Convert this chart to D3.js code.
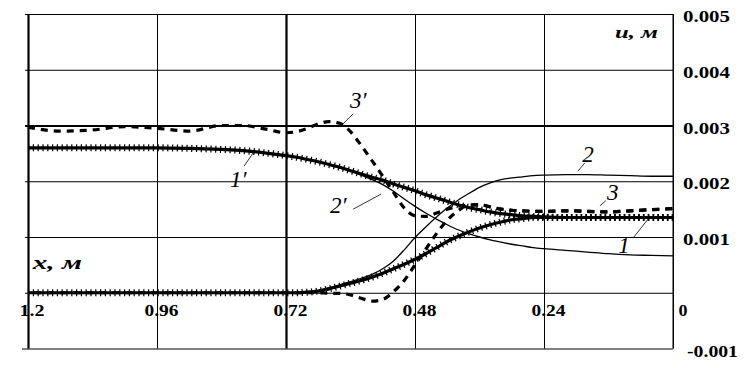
<!DOCTYPE html>
<html><head><meta charset="utf-8">
<script src="https://cdn.jsdelivr.net/npm/d3@7"></script>
<style>body{margin:0;background:#fff}svg{display:block;background:#fff}</style>
</head><body><svg id="c" width="750" height="368"></svg>
<script>
// ---- data (x in metres, u in metres) ----
const xGrid = [1.2,1.14,1.08,1.02,0.96,0.90,0.84,0.80,0.76,0.72,0.70,0.68,0.66,0.64,0.62,0.60,0.58,0.56,0.54,0.52,0.50,0.48,0.46,0.44,0.42,0.40,0.38,0.36,0.34,0.32,0.30,0.28,0.26,0.24,0.20,0.16,0.12,0.08,0.04,0];
const u1p = [0.00260,0.00260,0.00260,0.00260,0.00260,0.00259,0.00257,0.00255,0.00251,0.00246,0.00243,0.00239,0.00235,0.00230,0.00225,0.00219,0.00213,0.00207,0.00202,0.00195,0.00189,0.00183,0.00176,0.00170,0.00164,0.00158,0.00153,0.00149,0.00145,0.00142,0.00140,0.00138,0.00137,0.00136,0.00135,0.00135,0.00135,0.00135,0.00135,0.00135];
const u2p = [0.00260,0.00260,0.00260,0.00260,0.00260,0.00259,0.00257,0.00255,0.00251,0.00246,0.00243,0.00239,0.00235,0.00230,0.00225,0.00219,0.00211,0.00203,0.00194,0.00182,0.00168,0.00155,0.00143,0.00132,0.00122,0.00113,0.00106,0.00100,0.00095,0.00091,0.00087,0.00084,0.00081,0.00079,0.00076,0.00073,0.00070,0.00068,0.00067,0.00066];
const u3p = [0.00297,0.00290,0.00292,0.00298,0.00295,0.00290,0.00300,0.00300,0.00294,0.00287,0.00289,0.00295,0.00303,0.00307,0.00304,0.00289,0.00264,0.00237,0.00209,0.00180,0.00152,0.00138,0.00137,0.00143,0.00150,0.00155,0.00157,0.00158,0.00154,0.00150,0.00148,0.00147,0.00146,0.00146,0.00147,0.00146,0.00145,0.00147,0.00149,0.00151];
const u1  = [0,0,0,0,0,0,0,0,0,0,0,0.00001,0.00003,0.00007,0.00012,0.00017,0.00022,0.00028,0.00035,0.00043,0.00051,0.00060,0.00070,0.00081,0.00092,0.00101,0.00109,0.00116,0.00122,0.00127,0.00131,0.00133,0.00135,0.00135,0.00135,0.00135,0.00135,0.00135,0.00135,0.00135];
const u2  = [0,0,0,0,0,0,0,0,0,0,0,0.00001,0.00004,0.00009,0.00014,0.00020,0.00026,0.00033,0.00043,0.00057,0.00077,0.00099,0.00118,0.00136,0.00152,0.00166,0.00178,0.00189,0.00197,0.00203,0.00206,0.00208,0.00210,0.00211,0.00212,0.00212,0.00211,0.00210,0.00209,0.00209];
const u3  = [0,0,0,0,0,0,0,0,0,0,0,0,0,-0.00001,-0.00001,-0.00004,-0.00010,-0.00015,-0.00012,0.00002,0.00022,0.00050,0.00078,0.00106,0.00130,0.00147,0.00157,0.00158,0.00154,0.00150,0.00148,0.00147,0.00146,0.00146,0.00147,0.00146,0.00145,0.00147,0.00149,0.00151];

const xTickValues = [1.2,0.96,0.72,0.48,0.24,0];
const xTickLabels = ["1.2","0.96","0.72","0.48","0.24","0"];
const yTickValues = [0.005,0.004,0.003,0.002,0.001,0,-0.001];
const yTickLabels = ["0.005","0.004","0.003","0.002","0.001","","-0.001"];

// annotations: label position and leader line in data units
const annoText  = ["3\u2032","1\u2032","2\u2032","2","3","1"];
const annoPos   = [[0.601,0.00331],[0.824,0.00190],[0.638,0.00143],[0.169,0.00235],[0.123,0.00166],[0.102,0.00071]];
const annoLeadA = [[0.616,0.00301],[0.798,0.00227],[0.595,0.00150],[0.177,0.00218],[0.136,0.00156],[0.0744,0.00098]];
const annoLeadB = [[0.595,0.00321],[0.781,0.00251],[0.543,0.00177],[0.164,0.00233],[0.125,0.00165],[0.0465,0.00132]];
const titleU = {text:"u, м", pos:[0.108,0.00457]};
const titleX = {text:"x, м", pos:[1.191,0.000426]};

// ---- layout ----
const L = 28, R = 673, T = 14, B = 348.5;
const svg = d3.select("#c");
const x = d3.scaleLinear().domain([1.2,0]).range([L,R]);
const y = d3.scaleLinear().domain([-0.001,0.005]).range([B,T]);
const FONT = "'Liberation Serif','Times New Roman',serif";

// ---- grid via axes ----
const gx = svg.append("g").attr("transform",`translate(0,${B})`)
  .call(d3.axisBottom(x).tickValues(xTickValues).tickSize(-(B-T)).tickFormat((d,i)=>xTickLabels[i]));
gx.select(".domain").remove();
gx.selectAll(".tick line").attr("stroke","#000")
  .attr("stroke-width",d=>(d===1.2||d===0.72)?2.2:1);
gx.selectAll(".tick text")
  .attr("y",316-B).attr("dy",0)
  .attr("text-anchor","start")
  .attr("x",(d,i)=> xTickLabels[i].length===1 ? 5 : (d>=1 ? -9 : -13))
  .attr("textLength",(d,i)=> xTickLabels[i].length===1 ? 9 : (xTickLabels[i].length===3 ? 25 : 34))
  .attr("lengthAdjust","spacingAndGlyphs")
  .attr("fill","#000").attr("font-family",FONT).attr("font-weight","bold").attr("font-size",17);

const gy = svg.append("g").attr("transform",`translate(${R},0)`)
  .call(d3.axisRight(y).tickValues(yTickValues).tickSize(-(R-25)).tickFormat((d,i)=>yTickLabels[i]));
gy.select(".domain").remove();
gy.selectAll(".tick line").attr("stroke","#000")
  .attr("stroke-width",d=>Math.abs(d-0.003)<1e-9?2.2:1)
  .attr("x2",d=>Math.abs(d+0.001)<1e-9 ? -(R-22) : -(R-25));
gy.selectAll(".tick text")
  .attr("x",(d,i)=> yTickLabels[i].startsWith("-") ? 14 : 10)
  .attr("y",7.5).attr("dy",0)
  .attr("text-anchor","start")
  .attr("textLength",(d,i)=> yTickLabels[i].startsWith("-") ? 51 : (yTickLabels[i] ? 47 : 0))
  .attr("lengthAdjust","spacingAndGlyphs")
  .attr("fill","#000").attr("font-family",FONT).attr("font-weight","bold").attr("font-size",16.5);
gy.selectAll(".tick text").filter((d,i)=>!yTickLabels[i]).remove();

// right border line
svg.append("line").attr("x1",R).attr("x2",R).attr("y1",T).attr("y2",B).attr("stroke","#000").attr("stroke-width",1);

// ---- curves ----
const line = d3.line().x(d=>x(d[0])).y(d=>y(d[1])).curve(d3.curveMonotoneX);
const pts = arr => xGrid.map((v,i)=>[v,arr[i]]);

function thin(arr){
  return svg.append("path").attr("d",line(pts(arr))).attr("fill","none").attr("stroke","#000").attr("stroke-width",1.3);
}
function dashed(arr){
  return svg.append("path").attr("d",line(pts(arr))).attr("fill","none").attr("stroke","#000")
    .attr("stroke-width",3.2).attr("stroke-dasharray","7 6");
}
function hatched(arr){
  svg.append("path").attr("d",line(pts(arr))).attr("fill","none").attr("stroke","#000").attr("stroke-width",3.2);
  svg.append("path").attr("d",line(pts(arr))).attr("fill","none").attr("stroke","#000")
    .attr("stroke-width",7).attr("stroke-dasharray","1.2 3.6");
}
// length along a path up to a given pixel x
function lengthAtX(node, px){
  let lo=0, hi=node.getTotalLength();
  for(let k=0;k<40;k++){ const m=(lo+hi)/2; if(node.getPointAtLength(m).x<px) lo=m; else hi=m; }
  return lo;
}
thin(u2); thin(u2p);
const p3 = dashed(u3), p3p = dashed(u3p);
// where curves 3 and 3' coincide, align their dash phases so one dashed line shows
const mergeX = x(0.34);
const off = lengthAtX(p3p.node(), mergeX) - lengthAtX(p3.node(), mergeX);
p3.attr("stroke-dashoffset", -off);
hatched(u1); hatched(u1p);

// ---- annotations ----
annoText.forEach((t,i)=>{
  svg.append("line")
    .attr("x1",x(annoLeadA[i][0])).attr("y1",y(annoLeadA[i][1]))
    .attr("x2",x(annoLeadB[i][0])).attr("y2",y(annoLeadB[i][1]))
    .attr("stroke","#000").attr("stroke-width",0.8);
  svg.append("text").attr("x",x(annoPos[i][0])).attr("y",y(annoPos[i][1]))
    .attr("font-family",FONT).attr("font-style","italic").attr("font-size",23).attr("fill","#000").text(t);
});
svg.append("text").attr("x",x(titleU.pos[0])).attr("y",y(titleU.pos[1]))
  .attr("font-family",FONT).attr("font-style","italic").attr("font-weight","bold").attr("font-size",17)
  .attr("textLength",43).attr("lengthAdjust","spacingAndGlyphs").text(titleU.text);
svg.append("text").attr("x",x(titleX.pos[0])).attr("y",y(titleX.pos[1]))
  .attr("font-family",FONT).attr("font-style","italic").attr("font-weight","bold").attr("font-size",19)
  .attr("textLength",49).attr("lengthAdjust","spacingAndGlyphs").text(titleX.text);
</script></body></html>
